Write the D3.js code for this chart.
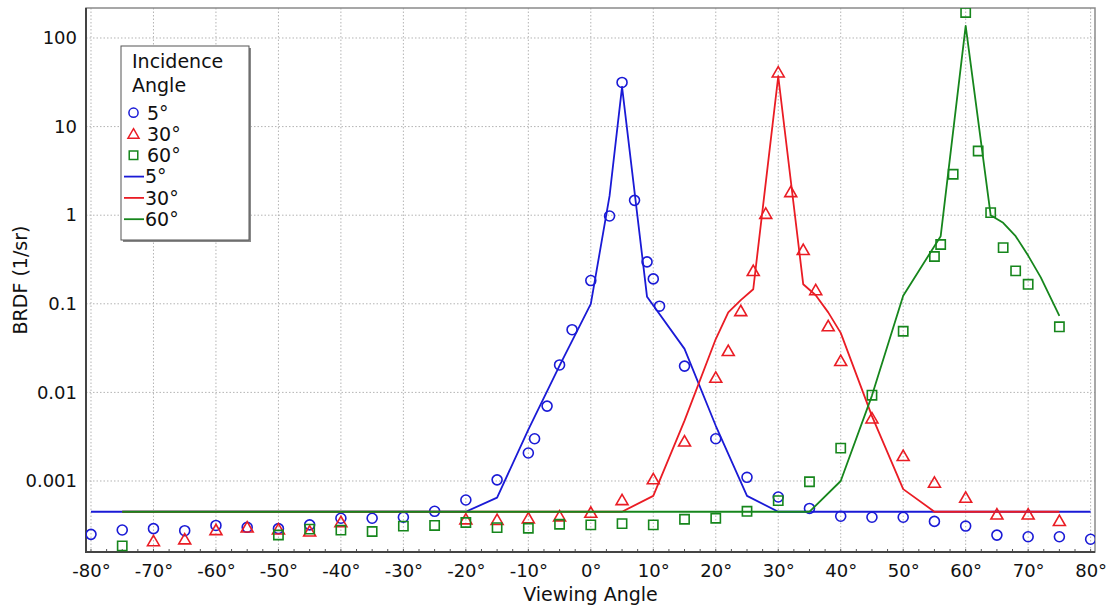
<!DOCTYPE html>
<html>
<head>
<meta charset="utf-8">
<script src="https://cdn.jsdelivr.net/npm/d3@7"></script>
<style>
  body { margin: 0; background: #fff; }
  svg text { font-family: "DejaVu Sans", Verdana, sans-serif; fill: #111; }
</style>
</head>
<body>
<div id="chart"></div>
<script>
// ---- data ----
const blueAngles = [-80,-75,-70,-65,-60,-55,-50,-45,-40,-35,-30,-25,-20,-15,-10,-9,-7,-5,-3,0,3,5,7,9,10,11,15,20,25,30,35,40,45,50,55,60,65,70,75,80];
const blueVals   = [2.5e-4,2.8e-4,2.9e-4,2.75e-4,3.15e-4,3.0e-4,2.9e-4,3.2e-4,3.8e-4,3.8e-4,3.9e-4,4.55e-4,6.1e-4,1.03e-3,2.07e-3,3.0e-3,7.0e-3,0.0204,0.051,0.183,0.98,31.5,1.47,0.297,0.191,0.094,0.0198,0.003,1.1e-3,6.6e-4,4.9e-4,4.0e-4,3.9e-4,3.9e-4,3.5e-4,3.1e-4,2.45e-4,2.35e-4,2.35e-4,2.2e-4];

const redAngles = [-70,-65,-60,-55,-50,-45,-40,-20,-15,-10,-5,0,5,10,15,20,22,24,26,28,30,32,34,36,38,40,45,50,55,60,65,70,75];
const redVals   = [2.1e-4,2.2e-4,2.8e-4,3.0e-4,2.85e-4,2.7e-4,3.45e-4,3.7e-4,3.65e-4,3.8e-4,4.0e-4,4.4e-4,6.1e-4,1.05e-3,2.8e-3,0.0147,0.0294,0.083,0.235,1.04,41,1.83,0.406,0.143,0.056,0.0227,5.1e-3,1.92e-3,9.6e-4,6.5e-4,4.2e-4,4.2e-4,3.55e-4];

const greenAngles = [-75,-50,-45,-40,-35,-30,-25,-20,-15,-10,-5,0,5,10,15,20,25,30,35,40,45,50,55,56,58,60,62,64,66,68,70,75];
const greenVals   = [1.85e-4,2.46e-4,2.86e-4,2.79e-4,2.69e-4,3.1e-4,3.15e-4,3.4e-4,2.98e-4,2.93e-4,3.25e-4,3.2e-4,3.3e-4,3.2e-4,3.7e-4,3.8e-4,4.55e-4,6.0e-4,9.8e-4,2.35e-3,9.3e-3,0.049,0.342,0.467,2.9,194,5.3,1.07,0.43,0.235,0.166,0.055];

// model curves
const blueLineAngles = [-80,-20,-15,-10,-5,0,3,5,9,15,20,25,30,80];
const blueLineVals   = [4.5e-4,4.5e-4,6.5e-4,3.8e-3,0.02,0.1,1.65,28,0.12,0.031,4.2e-3,6.8e-4,4.5e-4,4.5e-4];

const redLineAngles = [-75,5,10,15,20,22,24,26,30,34,36,38,40,45,50,55,75];
const redLineVals   = [4.5e-4,4.5e-4,6.8e-4,4.8e-3,0.04,0.08,0.11,0.146,37,0.166,0.125,0.08,0.047,0.0054,8.1e-4,4.5e-4,4.5e-4];

const greenLineAngles = [-75,35,40,45,50,56,60,64,66,68,70,72,75];
const greenLineVals   = [4.5e-4,4.5e-4,1.0e-3,9.2e-3,0.123,0.58,137,1.0,0.82,0.58,0.35,0.2,0.073];

const xTicks = d3.range(-80, 81, 10);
const yTicks = [0.001, 0.01, 0.1, 1, 10, 100];
const yTickLabels = ["0.001", "0.01", "0.1", "1", "10", "100"];
const legendLabels = ["5°", "30°", "60°"];

const colors = ["#1a1ad6", "#ea1c24", "#16861c"];

// ---- layout ----
const W = 1112, H = 609;
const plot = { left: 86, top: 8, right: 1095, bottom: 552 };

const svg = d3.select("#chart").append("svg")
  .attr("width", W).attr("height", H);

const x = d3.scaleLinear().domain([-80.8, 80.7]).range([plot.left, plot.right]);
const y = d3.scaleLog().domain([1.58e-4, 218]).range([plot.bottom, plot.top]);

// grid
const grid = svg.append("g").attr("class", "grid")
  .attr("stroke", "#b4b4b4").attr("stroke-width", 1).attr("stroke-dasharray", "1.5,2");
grid.selectAll(".gx").data(xTicks).enter().append("line")
  .attr("x1", d => x(d)).attr("x2", d => x(d))
  .attr("y1", plot.top).attr("y2", plot.bottom);
grid.selectAll(".gy").data(yTicks).enter().append("line")
  .attr("x1", plot.left).attr("x2", plot.right)
  .attr("y1", d => y(d)).attr("y2", d => y(d));

// axes
const xAxis = d3.axisBottom(x)
  .tickValues(xTicks)
  .tickSize(0).tickPadding(12)
  .tickFormat(d => d + "°");
const gx = svg.append("g").attr("transform", `translate(0,${plot.bottom})`).call(xAxis);
gx.select(".domain").remove();
gx.selectAll("text").style("font-size", "18px").attr("dy", "0.71em");

// minor ticks every 2.5 deg
svg.append("g").selectAll("line").data(d3.range(-80, 80.1, 2.5)).enter().append("line")
  .attr("x1", d => x(d)).attr("x2", d => x(d))
  .attr("y1", plot.bottom).attr("y2", plot.bottom - 3)
  .attr("stroke", "#555").attr("stroke-width", 1);

const yAxis = d3.axisLeft(y)
  .tickValues(yTicks)
  .tickSize(0).tickPadding(9)
  .tickFormat((d, i) => yTickLabels[i]);
const gy = svg.append("g").attr("transform", `translate(${plot.left},0)`).call(yAxis);
gy.select(".domain").remove();
gy.selectAll("text").style("font-size", "18px");

// frame
svg.append("rect")
  .attr("x", plot.left).attr("y", plot.top)
  .attr("width", plot.right - plot.left).attr("height", plot.bottom - plot.top)
  .attr("fill", "none").attr("stroke", "#8a8a8a").attr("stroke-width", 1.5);
svg.append("path")
  .attr("d", `M${plot.left},${plot.top}V${plot.bottom}H${plot.right}`)
  .attr("fill", "none").attr("stroke", "#444").attr("stroke-width", 2);

// axis titles
svg.append("text")
  .attr("x", (plot.left + plot.right) / 2).attr("y", 601)
  .attr("text-anchor", "middle").style("font-size", "19px")
  .text("Viewing Angle");
svg.append("text")
  .attr("transform", `translate(27,${(plot.top + plot.bottom) / 2}) rotate(-90)`)
  .attr("text-anchor", "middle").style("font-size", "19px")
  .text("BRDF (1/sr)");

// clip to plot
svg.append("clipPath").attr("id", "clip").append("rect")
  .attr("x", plot.left).attr("y", plot.top)
  .attr("width", plot.right - plot.left).attr("height", plot.bottom - plot.top);

const marks = svg.append("g").attr("clip-path", "url(#clip)");

const series = [
  { ang: blueAngles, val: blueVals, shape: d3.symbolCircle, size: 78 },
  { ang: redAngles, val: redVals, shape: d3.symbolTriangle, size: 62 },
  { ang: greenAngles, val: greenVals, shape: d3.symbolSquare, size: 86 }
];
const lines = [
  { ang: blueLineAngles, val: blueLineVals },
  { ang: redLineAngles, val: redLineVals },
  { ang: greenLineAngles, val: greenLineVals }
];

// measured points
series.forEach((s, i) => {
  const pts = s.ang.map((a, j) => [a, s.val[j]]);
  const tri = s.shape === d3.symbolTriangle;
  marks.append("g").selectAll("path").data(pts).enter().append("path")
    .attr("d", d3.symbol().type(s.shape).size(s.size))
    .attr("transform", d => `translate(${x(d[0])},${y(d[1]) + (tri ? 1.2 : 0)})`)
    .attr("fill", "none").attr("stroke", colors[i]).attr("stroke-width", 1.6);
});

// model lines
const lineGen = d3.line().x(d => x(d[0])).y(d => y(d[1]));
lines.forEach((l, i) => {
  marks.append("path")
    .datum(l.ang.map((a, j) => [a, l.val[j]]))
    .attr("d", lineGen)
    .attr("fill", "none").attr("stroke", colors[i]).attr("stroke-width", 1.8)
    .attr("stroke-linejoin", "round");
});

// legend
const lg = svg.append("g").attr("transform", "translate(121,46)");
lg.append("rect").attr("x", 2).attr("y", 2).attr("width", 128).attr("height", 194).attr("fill", "#888");
lg.append("rect").attr("width", 128).attr("height", 194)
  .attr("fill", "#fff").attr("stroke", "#555").attr("stroke-width", 1);
lg.append("text").attr("x", 11).attr("y", 22).style("font-size", "19px").text("Incidence");
lg.append("text").attr("x", 11).attr("y", 46).style("font-size", "19px").text("Angle");

const rowY = d3.range(6).map(i => 66.7 + i * 21.3);
series.forEach((s, i) => {
  const tri = s.shape === d3.symbolTriangle;
  lg.append("path")
    .attr("d", d3.symbol().type(s.shape).size(s.size * 0.85))
    .attr("transform", `translate(12.5,${rowY[i] + (tri ? 1 : 0)})`)
    .attr("fill", "none").attr("stroke", colors[i]).attr("stroke-width", 1.5);
  lg.append("text").attr("x", 26).attr("y", rowY[i]).attr("dy", "0.36em")
    .style("font-size", "19px").text(legendLabels[i]);
});
lines.forEach((l, i) => {
  const yy = rowY[i + 3];
  lg.append("line").attr("x1", 3).attr("x2", 23).attr("y1", yy).attr("y2", yy)
    .attr("stroke", colors[i]).attr("stroke-width", 1.8);
  lg.append("text").attr("x", 24).attr("y", yy).attr("dy", "0.36em")
    .style("font-size", "19px").text(legendLabels[i]);
});
</script>
</body>
</html>
